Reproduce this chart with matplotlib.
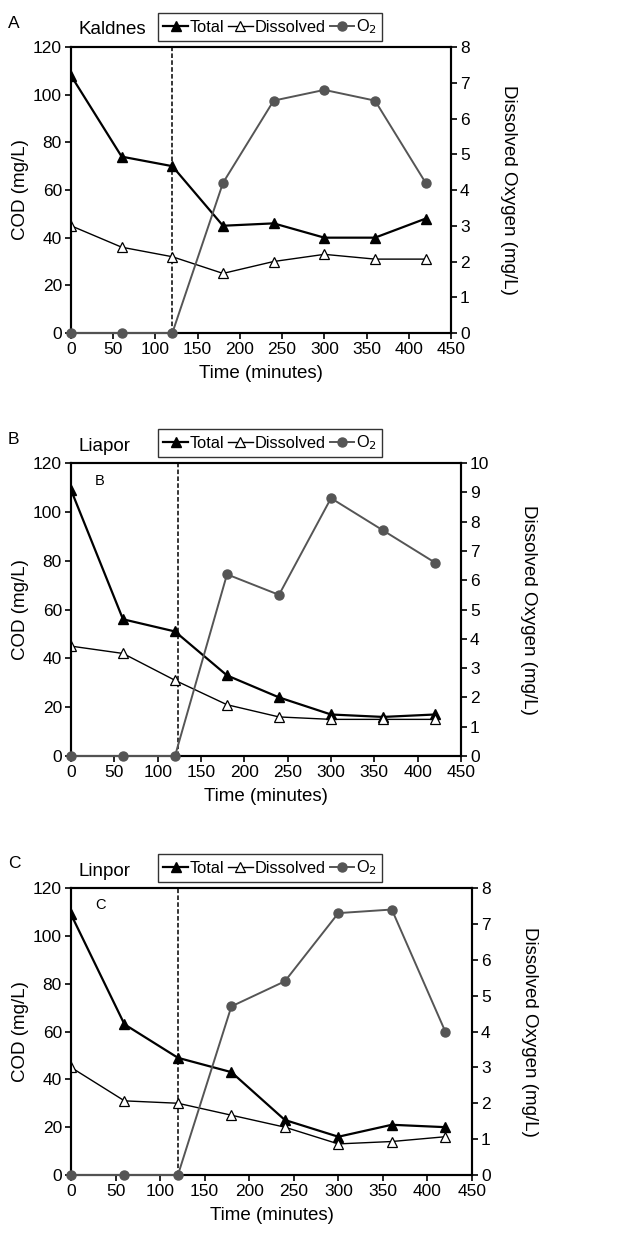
import matplotlib
matplotlib.use("Agg")
import matplotlib.pyplot as plt
from matplotlib.lines import Line2D

plt.rcParams["font.family"] = ["Liberation Sans", "DejaVu Sans"]

# время отбора проб, мин
time_min = [0, 60, 120, 180, 240, 300, 360, 420]

# A - Kaldnes
kaldnes_total = [108, 74, 70, 45, 46, 40, 40, 48]
kaldnes_dissolved = [45, 36, 32, 25, 30, 33, 31, 31]
kaldnes_o2 = [0, 0, 0, 4.2, 6.5, 6.8, 6.5, 4.2]

# B - Liapor
liapor_total = [109, 56, 51, 33, 24, 17, 16, 17]
liapor_dissolved = [45, 42, 31, 21, 16, 15, 15, 15]
liapor_o2 = [0, 0, 0, 6.2, 5.5, 8.8, 7.7, 6.6]

# C - Linpor
linpor_total = [109, 63, 49, 43, 23, 16, 21, 20]
linpor_dissolved = [45, 31, 30, 25, 20, 13, 14, 16]
linpor_o2 = [0, 0, 0, 4.7, 5.4, 7.3, 7.4, 4.0]

panels = [
    # letter, name, inner label, total, dissolved, o2, o2 max, aeration start, rect
    ("A", "Kaldnes", None, kaldnes_total, kaldnes_dissolved, kaldnes_o2, 8, 120,
     [71 / 624, 1 - 333 / 1234, 380 / 624, 286 / 1234]),
    ("B", "Liapor", "B", liapor_total, liapor_dissolved, liapor_o2, 10, 124,
     [71 / 624, 1 - 756 / 1234, 390 / 624, 293 / 1234]),
    ("C", "Linpor", "C", linpor_total, linpor_dissolved, linpor_o2, 8, 120,
     [71 / 624, 1 - 1175 / 1234, 401 / 624, 287 / 1234]),
]

O2_COLOR = "#555555"
TICK_FS = 12.5
LABEL_FS = 13.5
LEGEND_FS = 11.8

fig = plt.figure(figsize=(6.24, 12.34), dpi=100)

for letter, name, inner, total, dissolved, o2, o2_max, vline_x, rect in panels:
    ax = fig.add_axes(rect)
    ax2 = ax.twinx()

    ax.plot(time_min, total, color="black", lw=1.6, marker="^", ms=7,
            mfc="black", mec="black", zorder=3)
    ax.plot(time_min, dissolved, color="black", lw=1.0, marker="^", ms=7,
            mfc="white", mec="black", mew=0.9, zorder=3)
    ax.axvline(vline_x, color="black", lw=1.1, ls=(0, (3, 1.5)), zorder=2)

    ax2.plot(time_min, o2, color=O2_COLOR, lw=1.4, marker="o", ms=6.5,
             mfc=O2_COLOR, mec=O2_COLOR, zorder=3, clip_on=False)

    ax.set_xlim(0, 450)
    ax.set_ylim(0, 120)
    ax.set_xticks(range(0, 451, 50))
    ax.set_yticks(range(0, 121, 20))
    ax2.set_ylim(0, o2_max)
    ax2.set_yticks(range(0, o2_max + 1))

    for a in (ax, ax2):
        for sp in a.spines.values():
            sp.set_linewidth(1.5)
        a.tick_params(direction="out", length=4, width=1.2, labelsize=TICK_FS, pad=2.5)

    ax.set_xlabel("Time (minutes)", fontsize=LABEL_FS, labelpad=6)
    ax.set_ylabel("COD (mg/L)", fontsize=LABEL_FS, labelpad=3)
    ax2.set_ylabel("Dissolved Oxygen (mg/L)", fontsize=LABEL_FS, rotation=270,
                   labelpad=34)

    # буква панели и название носителя
    top_px = (1 - rect[1] - rect[3]) * 1234
    fig.text(8 / 624, 1 - (top_px - 24) / 1234, letter, fontsize=LABEL_FS - 1,
             ha="left", va="center")
    fig.text(78 / 624, 1 - (top_px - 17) / 1234, name, fontsize=LABEL_FS,
             ha="left", va="center")
    if inner:
        ax.text(0.06, 0.94, inner, transform=ax.transAxes, fontsize=10.5,
                ha="left", va="center")

    handles = [
        Line2D([], [], color="black", lw=1.6, marker="^", ms=7, mfc="black"),
        Line2D([], [], color="black", lw=1.0, marker="^", ms=7, mfc="white",
               mew=0.9),
        Line2D([], [], color=O2_COLOR, lw=1.4, marker="o", ms=6.5, mfc=O2_COLOR),
    ]
    leg = fig.legend(handles, ["Total", "Dissolved", "O$_2$"], ncol=3,
                     loc="center", bbox_to_anchor=(270 / 624, 1 - (top_px - 20) / 1234),
                     fontsize=LEGEND_FS, frameon=True, fancybox=False,
                     handlelength=1.5, handletextpad=0.1, columnspacing=0.25,
                     borderpad=0.3, borderaxespad=0)
    leg.get_frame().set_edgecolor("black")
    leg.get_frame().set_linewidth(1.0)

fig.savefig("out.png", dpi=100)
